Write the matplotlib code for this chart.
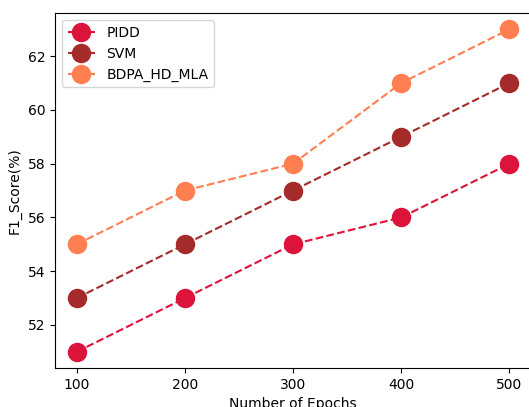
import matplotlib
matplotlib.use("Agg")
import matplotlib.pyplot as plt

epochs = [100, 200, 300, 400, 500]
pidd = [51, 53, 55, 56, 58]
svm = [53, 55, 57, 59, 61]
bdpa = [55, 57, 58, 61, 63]

fig = plt.figure(figsize=(5.29, 4.07), dpi=100)
ax = fig.add_axes([0.104, 0.0958, 0.9, 0.872])
ax.plot(epochs, pidd, '--o', color='crimson', markersize=13, label='PIDD')
ax.plot(epochs, svm, '--o', color='brown', markersize=13, label='SVM')
ax.plot(epochs, bdpa, '--o', color='coral', markersize=13, label='BDPA_HD_MLA')
ax.spines['right'].set_visible(False)
ax.set_xlabel('Number of Epochs')
ax.set_ylabel('F1_Score(%)')
ax.set_xticks(epochs)
ax.legend(loc='upper left')
fig.savefig('out.png', dpi=100)
